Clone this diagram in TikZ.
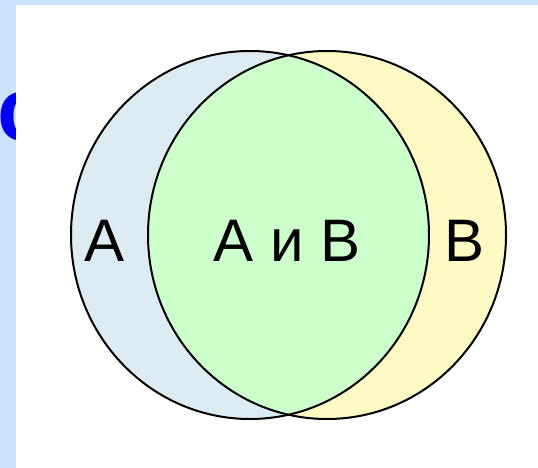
\documentclass[tikz,border=0pt]{standalone}
\usepackage{fontspec}
\setmainfont{Liberation Sans}
\definecolor{slideBg}{RGB}{204,226,252}
\definecolor{letterBlue}{RGB}{0,0,255}
\definecolor{setA}{RGB}{221,236,243}
\definecolor{setB}{RGB}{255,249,196}
\definecolor{setAB}{RGB}{204,255,204}

\begin{document}
\begin{tikzpicture}[x=1pt, y=-1pt]
  \useasboundingbox (0,0) rectangle (538,468);
  % Slide background and page
  \fill[slideBg] (0,0) rectangle (538,468);
  \begin{scope}
    \clip (0,0) rectangle (16,468);
    \node[font=\fontsize{90}{90}\selectfont\bfseries, text=letterBlue, anchor=base west, inner sep=0pt] (title) at (-3,140) {c};
  \end{scope}
  \fill[white] (16,5) rectangle (538,468);

  % Sets A and B
  \fill[setA] (250,235) ellipse (179 and 184);
  \fill[setB] (327,235) ellipse (179 and 184);
  \begin{scope}
    \clip (250,235) ellipse (179 and 184);
    \fill[setAB] (327,235) ellipse (179 and 184);
  \end{scope}
  \draw[line width=2pt] (250,235) ellipse (179 and 184);
  \draw[line width=2pt] (327,235) ellipse (179 and 184);

  % Labels
  \node[font=\fontsize{60}{60}\selectfont, inner sep=0pt] (labA) at (105,241) {А};
  \node[font=\fontsize{60}{60}\selectfont, inner sep=0pt] (labAB) at (287,241) {А и В};
  \node[font=\fontsize{60}{60}\selectfont, inner sep=0pt] (labB) at (465,241) {В};
\end{tikzpicture}
\end{document}
